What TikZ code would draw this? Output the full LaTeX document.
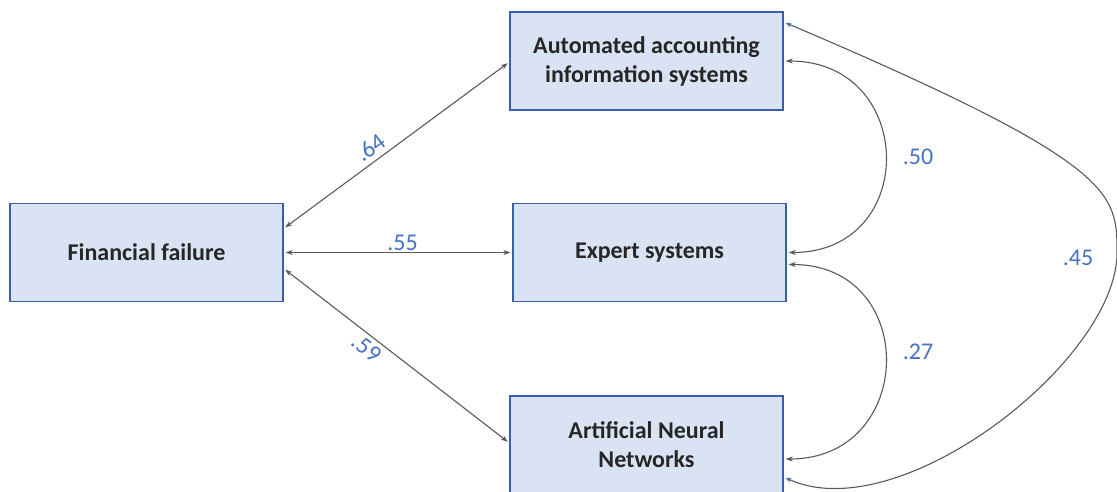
\documentclass[tikz,border=0pt]{standalone}
\usepackage{fontspec}
\setmainfont{Carlito}
\usetikzlibrary{arrows.meta}
\definecolor{boxfill}{HTML}{DAE3F3}
\definecolor{boxline}{HTML}{3A5FA8}
\definecolor{linkgray}{HTML}{595959}
\definecolor{coefblue}{HTML}{4472C4}
\tikzset{
  varbox/.style = {draw = boxline, fill = boxfill, line width = 1.3pt,
    minimum width = 273pt, minimum height = 98pt, align = center,
    font = \fontsize{24}{29}\selectfont\bfseries, text = black!85},
  corr/.style = {draw = linkgray, line width = 1.1pt, shorten < = 2pt, shorten > = 2pt,
    {Stealth[length = 7pt, width = 5pt]}-{Stealth[length = 7pt, width = 5pt]}},
  coef/.style = {text = coefblue, font = \fontsize{24}{28}\selectfont},
}
\begin{document}
\begin{tikzpicture}[x = 1pt, y = -1pt]
      \useasboundingbox (0, 0) rectangle (1117, 491);
      \node [varbox] (ff)   at (146.5, 252.5) {Financial failure};
      \node [varbox] (aais) at (646.5,  61)   {Automated accounting\\information systems};
      \node [varbox] (es)   at (649.5, 252.5) {Expert systems};
      \node [varbox] (ann)  at (646.5, 445)   {Artificial Neural\\Networks};
      \draw [corr] ([yshift = 24pt]ff.east) -- ([yshift = -1pt]aais.west)
        node [coef, sloped, above, pos = 0.42, inner sep = 5pt] {.64};
      \draw [corr] (ff.east) -- (es.west) node [coef, above, pos = 0.52, inner sep = 1pt] {.55};
      \draw [corr] ([yshift = -16pt]ff.east) -- ([yshift = 2pt]ann.west)
        node [coef, sloped, below, pos = 0.40, inner sep = 4pt] {.59};
      \draw [corr] (aais.east) .. controls +(133, 0) and +(133, 0) .. (es.east);
      \draw [corr] ([yshift = -12pt]es.east) .. controls +(133, 0) and +(133, 0) .. ([yshift = -14pt]ann.east);
      \draw [corr, {Stealth[length = 6pt, width = 5pt, color = coefblue]}-{Stealth[length = 6pt, width = 5pt, color = coefblue]}]
        ([yshift = 39pt]aais.east) .. controls (1118, 164) and (1117, 193) .. (1117, 253)
        .. controls (1117, 360) and (900, 530) .. ([yshift = -32pt]ann.east);
      \node [coef] at (918, 157) {.50};
      \node [coef] at (918, 352) {.27};
      \node [coef] at (1078, 258) {.45};
    \end{tikzpicture}
\end{document}
